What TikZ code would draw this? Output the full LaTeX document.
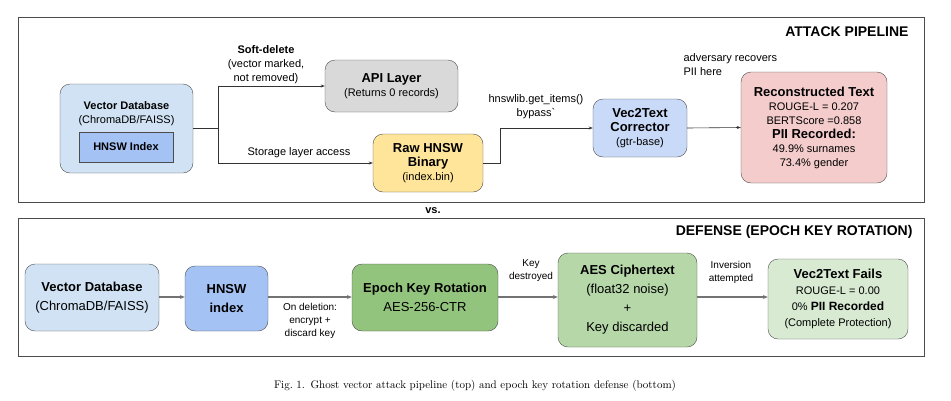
\documentclass[tikz,border=0pt]{standalone}
\usepackage{fontspec}
\setmainfont{Latin Modern Roman}
\newfontfamily\diagfont{Liberation Sans}
\usetikzlibrary{arrows.meta,positioning}
\definecolor{dbblue}{HTML}{D0E2F3}
\definecolor{idxblue}{HTML}{A4C2F4}
\definecolor{apigray}{HTML}{D9D9D9}
\definecolor{rawyellow}{HTML}{FFE599}
\definecolor{vecblue}{HTML}{C9DAF8}
\definecolor{reconred}{HTML}{F4CCCC}
\definecolor{epochgreen}{HTML}{93C47D}
\definecolor{aesgreen}{HTML}{B6D7A8}
\definecolor{failgreen}{HTML}{D9EAD3}
\tikzset{
  stagebox/.style={shape=rectangle,draw=black!70,rounded corners=10pt,align=center,inner sep=2pt},
  toplink/.style={draw=black!80,line width=0.6pt,-{Stealth[length=4pt,width=3pt]}},
  botlink/.style={draw=black!55,line width=1.6pt,-{Stealth[length=5pt,width=4pt]}},
  note/.style={align=center,font=\diagfont\fontsize{10}{13}\selectfont},
}
\begin{document}
\begin{tikzpicture}[x=1pt,y=-1pt,font=\diagfont\fontsize{11}{14}\selectfont]
    \useasboundingbox (0,0) rectangle (951,400);
    % attack pipeline
    \draw[black!70,line width=0.8pt] (18,17) rectangle (924,202);
    \node[anchor=east,font=\diagfont\bfseries\fontsize{14}{16}\selectfont] (attack) at (912,32) {ATTACK PIPELINE};
    \node[stagebox,fill=dbblue,minimum width=133pt,minimum height=89pt] (vdb) at (126.5,128.5) {};
    \node[align=center] (vdbtext) at (126.5,114) {\textbf{Vector Database}\\(ChromaDB/FAISS)};
    \node[shape=rectangle,draw=black!70,fill=idxblue,minimum width=94pt,minimum height=30pt,font=\diagfont\bfseries\fontsize{11}{14}\selectfont] (hnsw) at (126,147) {HNSW Index};
    \node[stagebox,fill=apigray,minimum width=133pt,minimum height=52pt] (api) at (391.5,86) {{\bfseries\fontsize{13}{15}\selectfont API Layer}\\(Returns 0 records)};
    \node[stagebox,fill=rawyellow,minimum width=110pt,minimum height=58pt] (raw) at (428,163) {{\bfseries\fontsize{13}{15}\selectfont Raw HNSW}\\{\bfseries\fontsize{13}{15}\selectfont Binary}\\(index.bin)};
    \node[stagebox,fill=vecblue,minimum width=94pt,minimum height=58pt] (vec) at (640,128) {{\bfseries\fontsize{13}{15}\selectfont Vec2Text}\\{\bfseries\fontsize{13}{15}\selectfont Corrector}\\(gtr-base)};
    \node[stagebox,fill=reconred,minimum width=146pt,minimum height=111pt] (recon) at (814,127.5) {{\bfseries\fontsize{13}{15}\selectfont Reconstructed Text}\\ROUGE-L = 0.207\\BERTScore =0.858\\{\bfseries\fontsize{13}{15}\selectfont PII Recorded:}\\49.9\% surnames\\73.4\% gender};
    \coordinate (split) at (218,128);
    \draw[draw=black!80,line width=0.6pt] (vdb.east |- split) -- (split);
    \draw[toplink] (split) |- (api.west);
    \draw[toplink] (split) |- (raw.west);
    \draw[toplink] (raw.east) -- ++(17,0) |- (vec.west);
    \draw[toplink] (vec.east) -- (recon.west);
    \node[align=center] (softdel) at (266,65) {\textbf{Soft-delete}\\(vector marked,\\not removed)};
    \node (storage) at (299,153) {Storage layer access};
    \node[align=center] (bypass) at (536,107) {hnswlib.get\_items()\\bypass`};
    \node[align=left,anchor=west] (recovers) at (680,65) {adversary recovers\\PII here};
    \node[font=\diagfont\bfseries\fontsize{11}{13}\selectfont] (vs) at (433,211) {vs.};
    % defense
    \draw[black!70,line width=0.8pt] (18,218) rectangle (924,356);
    \node[anchor=east,font=\diagfont\bfseries\fontsize{14}{16}\selectfont] (defense) at (916,232) {DEFENSE (EPOCH KEY ROTATION)};
    \begin{scope}[font=\diagfont\fontsize{13}{19}\selectfont]
    \node[stagebox,fill=dbblue,minimum width=134pt,minimum height=67pt] (vdbB) at (92,297.5) {\textbf{Vector Database}\\(ChromaDB/FAISS)};
    \node[stagebox,fill=idxblue,minimum width=83pt,minimum height=65pt] (hnswB) at (226.5,298.5) {\textbf{HNSW}\\\textbf{index}};
    \node[stagebox,fill=epochgreen,minimum width=146pt,minimum height=67pt] (epoch) at (425,297.5) {\textbf{Epoch Key Rotation}\\AES-256-CTR};
    \node[stagebox,fill=aesgreen,minimum width=139pt,minimum height=94pt] (aes) at (627.5,300) {\textbf{AES Ciphertext}\\(float32 noise)\\+\\Key discarded};
    \node[stagebox,fill=failgreen,minimum width=140pt,minimum height=80pt,font=\diagfont\fontsize{11}{16}\selectfont] (fails) at (838,299) {{\bfseries\fontsize{13}{16}\selectfont Vec2Text Fails}\\ROUGE-L = 0.00\\0\% {\bfseries\fontsize{12}{16}\selectfont PII Recorded}\\(Complete Protection)};
    \end{scope}
    \draw[botlink] (vdbB.east |- 0,297) -- (hnswB.west |- 0,297);
    \draw[botlink] (hnswB.east |- 0,297) -- (epoch.west |- 0,297);
    \draw[botlink] (epoch.east |- 0,297) -- (aes.west |- 0,297);
    \draw[botlink] (aes.east |- 0,297) -- (fails.west |- 0,297);
    \node[note] (ondel) at (310,321) {On deletion:\\encrypt +\\discard key};
    \node[note] (keydes) at (531,271) {Key\\destroyed};
    \node[note] (invers) at (731,272) {Inversion\\attempted};
    % caption
    \node[font=\rmfamily\fontsize{11}{13}\selectfont] (caption) at (475,386) {Fig.~1.\enspace Ghost vector attack pipeline (top) and epoch key rotation defense (bottom)};
\end{tikzpicture}
\end{document}
